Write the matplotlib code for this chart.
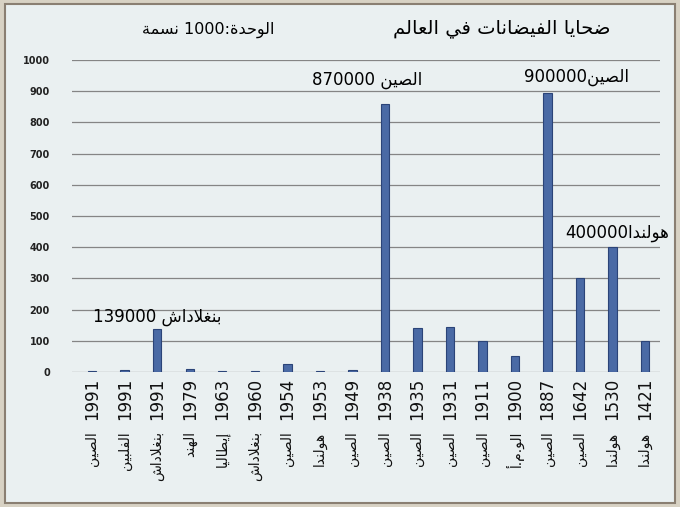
import matplotlib.pyplot as plt
from matplotlib.patches import Rectangle

# --- arabic shaping (no reshaper lib available) ---
DUAL = {'ب': 0xFE8F, 'ت': 0xFE95, 'ح': 0xFEA1, 'س': 0xFEB1, 'ش': 0xFEB5,
        'ص': 0xFEB9, 'ض': 0xFEBD, 'ط': 0xFEC1, 'ع': 0xFEC9, 'غ': 0xFECD,
        'ف': 0xFED1, 'ق': 0xFED5, 'ل': 0xFEDD, 'م': 0xFEE1, 'ن': 0xFEE5,
        'ه': 0xFEE9, 'ي': 0xFEF1}
RIGHT = {'ا': 0xFE8D, 'أ': 0xFE83, 'إ': 0xFE87, 'د': 0xFEA9, 'ر': 0xFEAD,
         'و': 0xFEED, 'ة': 0xFE93}
LAM_ALEF = {'ا': 0xFEFB, 'أ': 0xFEF7, 'إ': 0xFEF9}


def shape(s):
    out = []
    i, n = 0, len(s)
    while i < n:
        c = s[i]
        jp = i > 0 and s[i - 1] in DUAL
        if c == 'ل' and i + 1 < n and s[i + 1] in LAM_ALEF:
            out.append(chr(LAM_ALEF[s[i + 1]] + (1 if jp else 0)))
            i += 2
            continue
        nxt = s[i + 1] if i + 1 < n else ''
        if c in DUAL:
            jn = nxt in DUAL or nxt in RIGHT
            off = 3 if (jp and jn) else 1 if jp else 2 if jn else 0
            out.append(chr(DUAL[c] + off))
        elif c in RIGHT:
            out.append(chr(RIGHT[c] + (1 if jp else 0)))
        else:
            out.append(c)
        i += 1
    return ''.join(out)


def ar(s):
    return shape(s)[::-1]


# --- data (unit: 1000 persons) ---
years = ['1991', '1991', '1991', '1979', '1963', '1960', '1954', '1953', '1949',
         '1938', '1935', '1931', '1911', '1900', '1887', '1642', '1530', '1421']
countries = ['الصين', 'الفلبين', 'بنغلاداش', 'الهند', 'إيطاليا', 'بنغلاداش',
             'الصين', 'هولندا', 'الصين', 'الصين', 'الصين', 'الصين', 'الصين',
             'الو.م.أ', 'الصين', 'الصين', 'هولندا', 'هولندا']
victims = [2, 5, 139, 10, 2, 4, 25, 2, 5, 860, 140, 145, 100, 50, 895, 300, 400, 100]

x = list(range(len(years)))

fig = plt.figure(figsize=(6.8, 5.07), dpi=100)
fig.patch.set_facecolor('#d8d2c4')
fig.patches.append(Rectangle((5 / 680, 4 / 507), 670 / 680, 499 / 507,
                             transform=fig.transFigure, facecolor='#eaf0f1',
                             edgecolor='#8a7f72', linewidth=1.5, zorder=-10))

ax = fig.add_axes([72 / 680, 135 / 507, 588 / 680, 312 / 507])
ax.set_facecolor('none')

ax.bar(x, victims, width=0.26, color='#4a6aa5', edgecolor='#2b4478', linewidth=0.8, zorder=3)

ax.set_ylim(0, 1000)
ax.set_xlim(-0.62, 17.46)
ax.set_yticks(range(0, 1001, 100))
ax.yaxis.grid(True, color='#858585', linewidth=0.9)
ax.set_axisbelow(True)
for s in ax.spines.values():
    s.set_visible(False)
ax.tick_params(axis='y', length=0, pad=16, labelsize=7, colors='#222222')
for t in ax.get_yticklabels():
    t.set_fontweight('bold')

# x labels: year as tick label, country name below it in smaller type
ax.set_xticks(x)
ax.set_xticklabels(years, rotation=90, fontsize=12, color='#111111')
ax.tick_params(axis='x', length=0, pad=4)
for i, c in enumerate(countries):
    ax.text(i, -0.19, ar(c), transform=ax.get_xaxis_transform(), rotation=90,
            ha='center', va='top', fontsize=10, color='#111111')

# annotations
ax.text(2, 175, '139000 ' + ar('بنغلاداش'), ha='center', va='center', fontsize=12)
ax.text(8.45, 935, '870000 ' + ar('الصين'), ha='center', va='center', fontsize=12)
ax.text(14.9, 945, '900000' + ar('الصين'), ha='center', va='center', fontsize=12)
ax.text(16.15, 445, '400000' + ar('هولندا'), ha='center', va='center', fontsize=12)

fig.text(502 / 680, 1 - 28 / 507, ar('ضحايا الفيضانات في العالم'),
         ha='center', va='center', fontsize=14)
fig.text(208 / 680, 1 - 30 / 507, ar('نسمة') + ' 1000:' + ar('الوحدة'),
         ha='center', va='center', fontsize=11.5)

plt.savefig('out.png', dpi=100, facecolor=fig.get_facecolor())
